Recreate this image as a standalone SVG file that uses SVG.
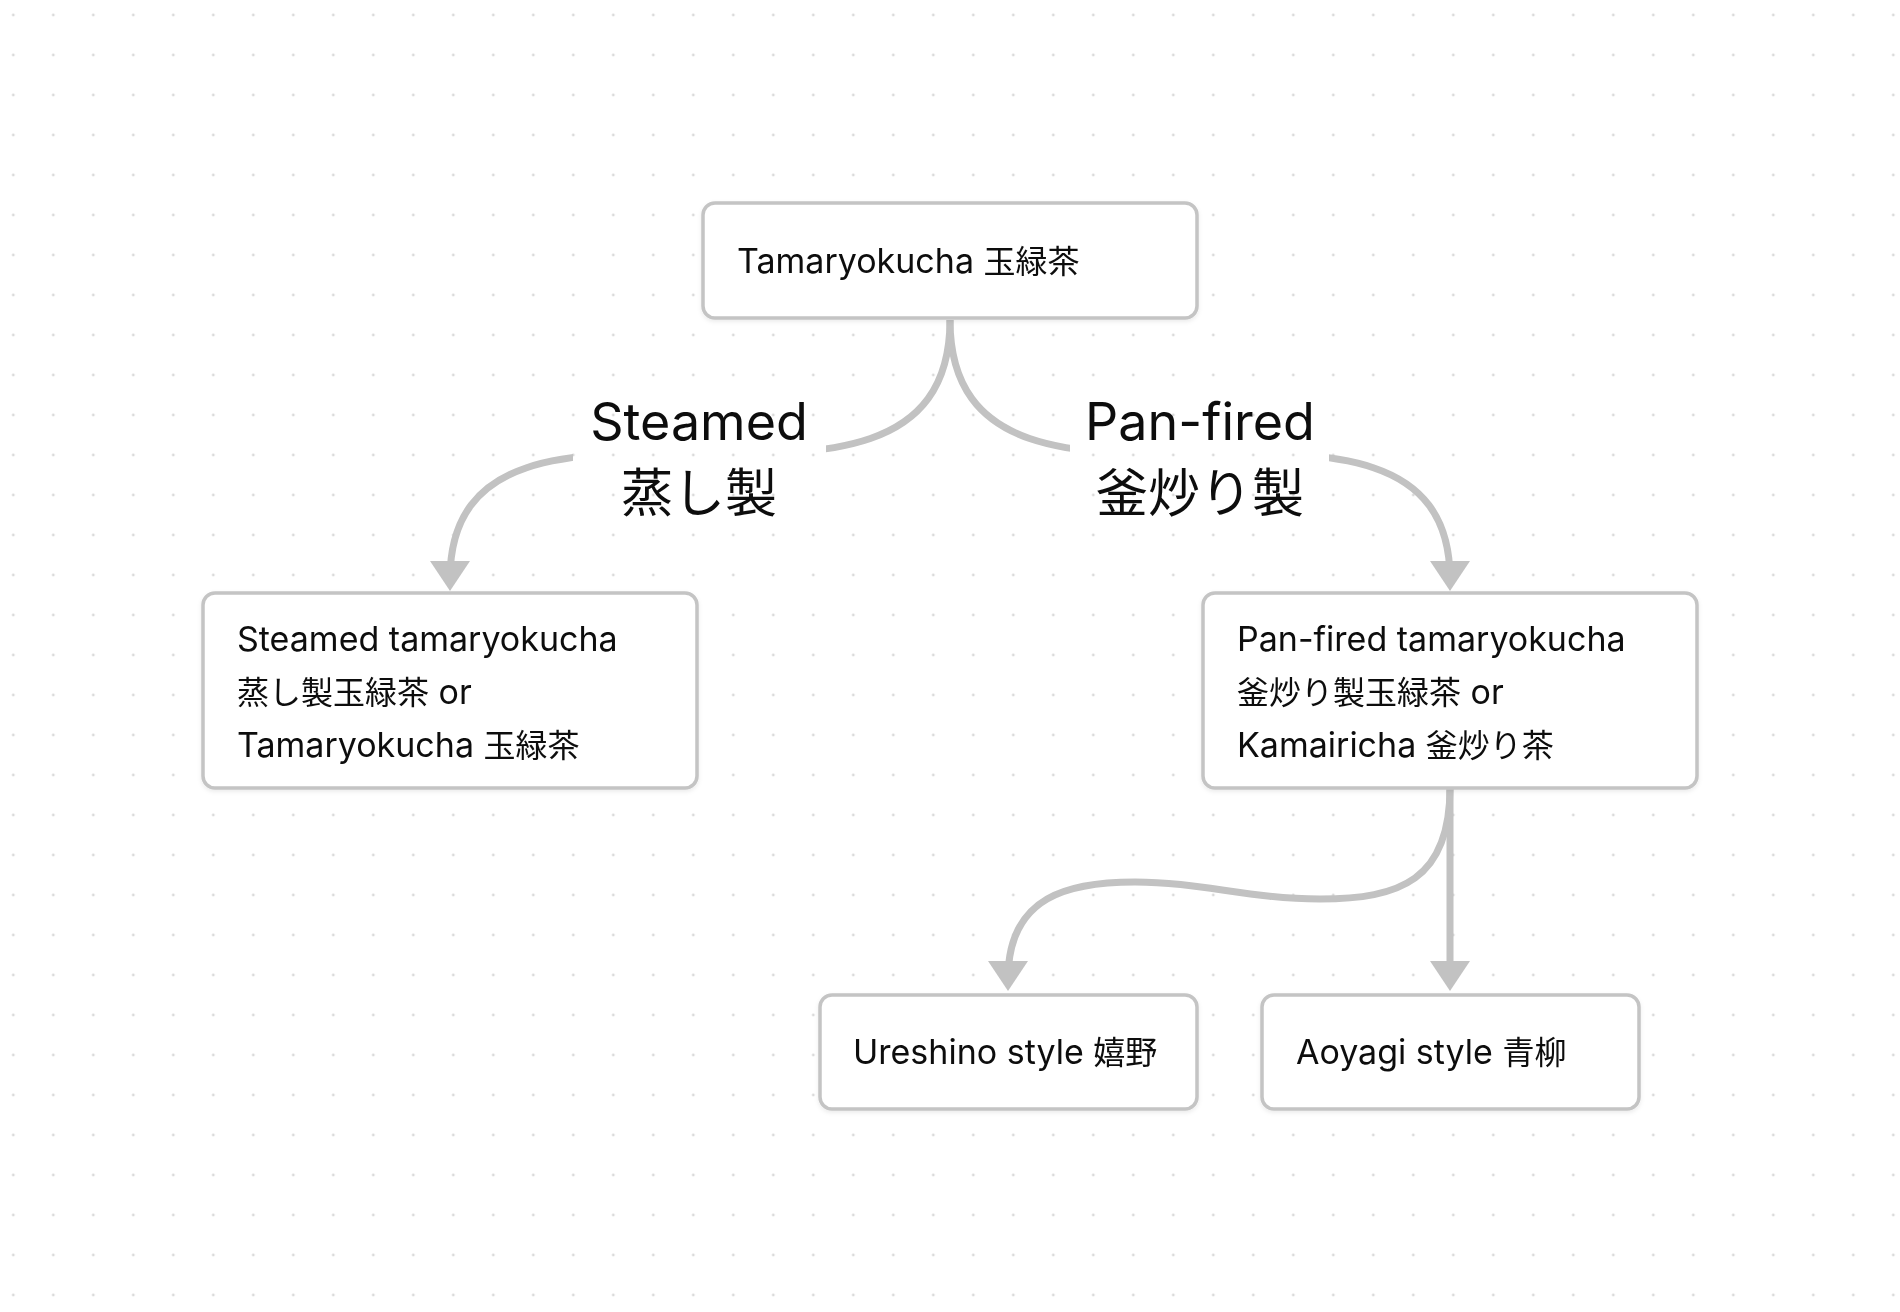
<svg xmlns="http://www.w3.org/2000/svg" width="1900" height="1312" viewBox="0 0 1900 1312">
  <style>
    .node rect { fill: #ffffff; stroke: #c4c4c4; stroke-width: 3.5; }
    .node text { font-family: Inter, "Noto Sans CJK JP", sans-serif; font-size: 34px; fill: #0d0d0d; }
    .node .cjk { font-size: 32px; }
    .label text { font-family: Inter, "Noto Sans CJK JP", sans-serif; font-size: 52px; fill: #0d0d0d; text-anchor: middle; }
    .edge { fill: none; stroke: #c2c2c2; stroke-width: 7; marker-end: url(#arrow); }
  </style>
  <defs>
    <pattern id="dots" width="40" height="40" patternUnits="userSpaceOnUse" x="-6.7" y="-5">
      <circle cx="20" cy="20" r="1.4" fill="#dadada"/>
    </pattern>
    <marker id="arrow" markerUnits="userSpaceOnUse" viewBox="0 0 30 40" markerWidth="30" markerHeight="40" refX="18" refY="20" orient="auto">
      <path d="M0,0 L30,20 L0,40 Z" fill="#c2c2c2"/>
    </marker>
    <mask id="labelgaps" maskUnits="userSpaceOnUse" x="0" y="0" width="1900" height="1312">
      <rect x="0" y="0" width="1900" height="1312" fill="#ffffff"/>
      <rect x="573" y="395" width="253" height="130" fill="#000000"/>
      <rect x="1070" y="395" width="259" height="130" fill="#000000"/>
    </mask>
    <filter id="shadow" x="-5%" y="-5%" width="110%" height="120%">
      <feDropShadow dx="0" dy="2" stdDeviation="2" flood-color="#000000" flood-opacity="0.08"/>
    </filter>
  </defs>

  <rect x="0" y="0" width="1900" height="1312" fill="#ffffff"/>
  <rect x="0" y="0" width="1900" height="1312" fill="url(#dots)"/>

  <g id="connectors">
    <g mask="url(#labelgaps)">
      <path id="edge-steamed" class="edge" d="M950,320 C950,590 450,320 450,579"/>
      <path id="edge-panfired" class="edge" d="M950,320 C950,590 1450,320 1450,579"/>
    </g>
    <path id="edge-ureshino" class="edge" d="M1450,788 C1450,880 1400,899 1320,899 C1250,899 1200,882 1135,882 C1070,882 1008,895 1008,979"/>
    <path id="edge-aoyagi" class="edge" d="M1450,788 L1450,979"/>
  </g>

  <g id="label-steamed" class="label">
    <text x="699" y="440">Steamed</text>
    <text x="699" y="512">蒸し製</text>
  </g>
  <g id="label-panfired" class="label">
    <text x="1200" y="440">Pan-fired</text>
    <text x="1200" y="512">釜炒り製</text>
  </g>

  <g id="node-tamaryokucha" class="node" filter="url(#shadow)">
    <rect x="703" y="203" width="494" height="115" rx="12"/>
    <text x="737" y="273">Tamaryokucha <tspan class="cjk">玉緑茶</tspan></text>
  </g>

  <g id="node-steamed" class="node" filter="url(#shadow)">
    <rect x="203" y="593" width="494" height="195" rx="12"/>
    <text x="237" y="651">Steamed tamaryokucha</text>
    <text x="237" y="704"><tspan class="cjk">蒸し製玉緑茶</tspan> or</text>
    <text x="237" y="757">Tamaryokucha <tspan class="cjk">玉緑茶</tspan></text>
  </g>

  <g id="node-panfired" class="node" filter="url(#shadow)">
    <rect x="1203" y="593" width="494" height="195" rx="12"/>
    <text x="1237" y="651">Pan-fired tamaryokucha</text>
    <text x="1237" y="704"><tspan class="cjk">釜炒り製玉緑茶</tspan> or</text>
    <text x="1237" y="757">Kamairicha <tspan class="cjk">釜炒り茶</tspan></text>
  </g>

  <g id="node-ureshino" class="node" filter="url(#shadow)">
    <rect x="820" y="995" width="377" height="114" rx="12"/>
    <text x="853" y="1064">Ureshino style <tspan class="cjk">嬉野</tspan></text>
  </g>

  <g id="node-aoyagi" class="node" filter="url(#shadow)">
    <rect x="1262" y="995" width="377" height="114" rx="12"/>
    <text x="1296" y="1064">Aoyagi style <tspan class="cjk">青柳</tspan></text>
  </g>
</svg>
